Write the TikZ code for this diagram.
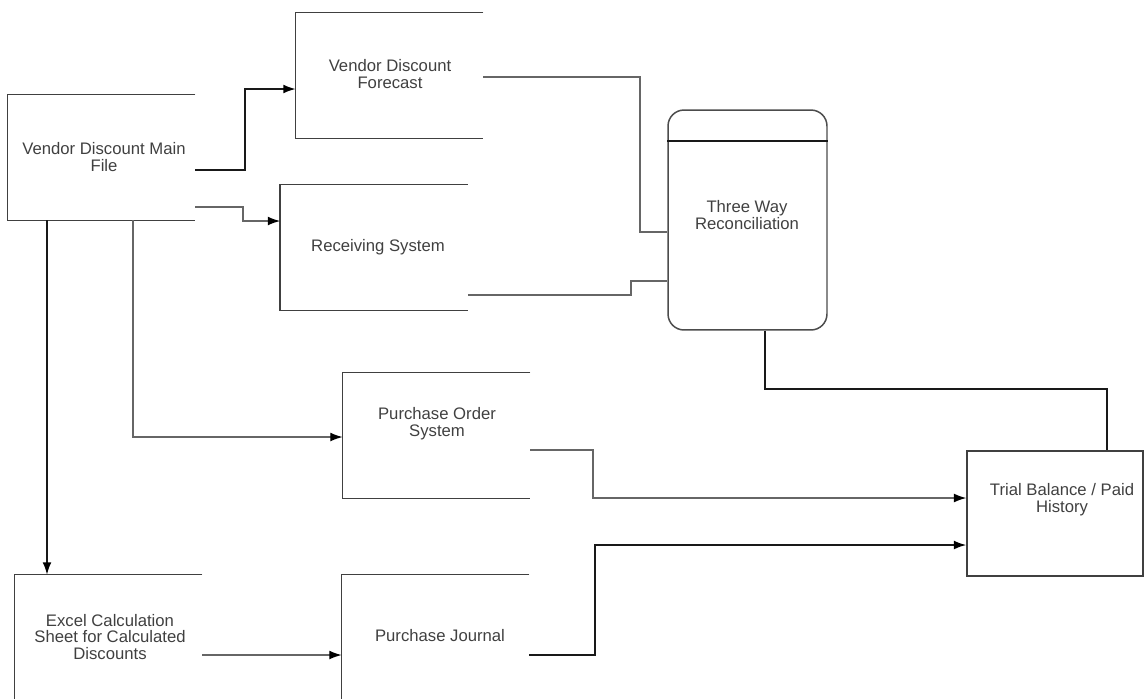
\documentclass[tikz,border=0pt]{standalone}
\usepackage{fontspec}
\setmainfont{Liberation Sans}
\usepackage{xcolor}
\usepackage{tikz}
\usetikzlibrary{arrows.meta}

\begin{document}
\begin{tikzpicture}[x=0.02cm,y=-0.02cm]
                \tikzstyle{every node}+=[inner sep=0pt]
                \tikzstyle{store}=[minimum width=3.74cm, minimum height=2.5cm]
                \tikzstyle{txt}=[align=center, text=black!75, font=\fontsize{9.5}{9.5}\selectfont]
                \tikzstyle{edge}=[draw=black!60, line width=0.7pt]
                \tikzstyle{edgedark}=[draw=black!90, line width=0.9pt]
                \tikzstyle{arr}=[-{Latex[length=7pt,width=5pt,black]}]
                \useasboundingbox (0,0) rectangle (1145,698);
                % open boxes
                \node [store] (main) at (101.5,157.5) {};
                \node [store] (fcst) at (389.5,75.5) {};
                \node [store] (recv) at (374,247.5) {};
                \node [store] (po) at (436.5,435.5) {};
                \node [store, minimum height=2.6cm] (excel) at (108.5,640) {};
                \node [store, minimum height=2.6cm] (journal) at (435.5,640) {};
                \foreach \n in {main,fcst,recv,po,excel,journal}
                    \draw [black!75, line width=0.85pt] (\n.north east) -- (\n.north west) -- (\n.south west) -- (\n.south east);
                \node [draw=black!75, line width=0.85pt, minimum width=3.52cm, minimum height=2.5cm] (tb) at (1055,513.5) {};
                \node [draw=black!70, line width=0.85pt, rounded corners=0.32cm, minimum width=3.18cm, minimum height=4.4cm] (recon) at (747.5,220) {};
                \draw [edgedark] (recon.west |- 0,141) -- (recon.east |- 0,141);
                % labels
                \node [txt] (main-t) at (104,157) {Vendor Discount Main\\File};
                \node [txt] (fcst-t) at (390,74) {Vendor Discount\\Forecast};
                \node [txt] (recv-t) at (378,247) {Receiving System};
                \node [txt] (po-t) at (437,424) {Purchase Order\\System};
                \node [txt] (excel-t) at (110,637) {Excel Calculation\\Sheet for Calculated\\Discounts};
                \node [txt] (journal-t) at (440,636) {Purchase Journal};
                \node [txt] (tb-t) at (1062,500) {Trial Balance / Paid\\History};
                \node [txt] (recon-t) at (747,215) {Three Way\\Reconciliation};
                % flows
                \draw [edgedark, arr] (main.east |- 0,170) -- (245,170) |- (fcst.west |- 0,89);
                \draw [edge, arr] (main.east |- 0,207) -- (243,207) |- (recv.west |- 0,221);
                \draw [edgedark, arr] (main.south -| 47,0) -- (excel.north -| 47,0);
                \draw [edge, arr] (main.south -| 133,0) |- (po.west |- 0,437);
                \draw [edge] (fcst.east |- 0,77) -| (640,232) -- (recon.west |- 0,232);
                \draw [edge] (recv.east |- 0,295) -| (631,281) -- (recon.west |- 0,281);
                \draw [edgedark] (recon.south -| 765,0) |- (1107,389) -- (tb.north -| 1107,0);
                \draw [edge, arr] (po.east |- 0,450) -| (593,498) -- (tb.west |- 0,498);
                \draw [edgedark, arr] (journal.east |- 0,655) -| (595,545) -- (tb.west |- 0,545);
                \draw [edge, arr] (excel.east |- 0,655) -- (journal.west |- 0,655);
\end{tikzpicture}
\end{document}
